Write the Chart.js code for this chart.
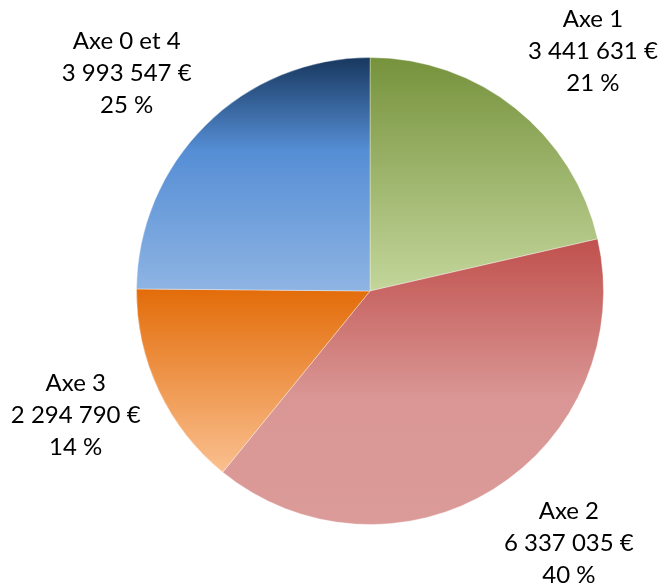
<!DOCTYPE html>
<html lang="fr">
<head>
<meta charset="utf-8">
<title>Répartition par axe</title>
<script src="https://cdn.jsdelivr.net/npm/chart.js@4.4.1/dist/chart.umd.min.js"></script>
<style>
  html, body { margin: 0; padding: 0; background: #fff; }
  #wrap { position: relative; width: 663px; height: 586px; }
</style>
</head>
<body>
<div id="wrap"><canvas id="pieChart"></canvas></div>
<script>
// Slices, clockwise from 12 o'clock
const categories = ['Axe 1', 'Axe 2', 'Axe 3', 'Axe 0 et 4'];
const amounts = [3441631, 6337035, 2294790, 3993547];
const percentLabels = ['21 %', '40 %', '14 %', '25 %'];

// Vertical gradient stops for each slice (dark at top, light at bottom)
const sliceStops = [
  [[0, '#76923C'], [1, '#C3D69B']],
  [[0, '#C0504D'], [0.55, '#D99694'], [1, '#DB9B99']],
  [[0, '#E36C09'], [1, '#FAC090']],
  [[0, '#17375E'], [0.4, '#558ED5'], [1, '#8EB4E3']]
];
const fallbackColors = ['#9BBB59', '#C0504D', '#F79646', '#4F81BD'];

const total = amounts.reduce((a, b) => a + b, 0);

// "3441631" -> "3 441 631 €"
const euro = (v) => String(v).replace(/\B(?=(\d{3})+(?!\d))/g, ' ') + ' €';

// Gradient spanning the vertical extent of the slice
const sliceGradient = (context) => {
  const chart = context.chart;
  const area = chart.chartArea;
  const i = context.dataIndex;
  if (!area || i === undefined) return fallbackColors[i || 0];
  const cx = (area.left + area.right) / 2;
  const cy = (area.top + area.bottom) / 2;
  const r = Math.min(area.width, area.height) / 2;
  const before = amounts.slice(0, i).reduce((a, b) => a + b, 0);
  const a0 = before / total * 2 * Math.PI - Math.PI / 2;
  const a1 = (before + amounts[i]) / total * 2 * Math.PI - Math.PI / 2;
  const ys = [cy, cy + r * Math.sin(a0), cy + r * Math.sin(a1)];
  if (a0 < Math.PI / 2 && a1 > Math.PI / 2) ys.push(cy + r);
  const g = chart.ctx.createLinearGradient(0, Math.min(...ys), 0, Math.max(...ys));
  sliceStops[i].forEach(([pos, col]) => g.addColorStop(pos, col));
  return g;
};

// Three-line labels outside each slice
const outsideLabels = {
  id: 'outsideLabels',
  afterDatasetsDraw(chart) {
    const ctx = chart.ctx;
    const meta = chart.getDatasetMeta(0);
    const lineHeight = 32;
    const gap = 20;
    ctx.save();
    ctx.font = '24px Lato, "Open Sans", sans-serif';
    ctx.fillStyle = '#000';
    ctx.textAlign = 'center';
    ctx.textBaseline = 'middle';
    meta.data.forEach((arc, i) => {
      const lines = [categories[i], euro(amounts[i]), percentLabels[i]];
      const w = Math.max(...lines.map(l => ctx.measureText(l).width));
      const h = lines.length * lineHeight;
      const mid = (arc.startAngle + arc.endAngle) / 2;
      const ux = Math.cos(mid), uy = Math.sin(mid);
      const px = arc.x + (arc.outerRadius + gap) * ux;
      const py = arc.y + (arc.outerRadius + gap) * uy;
      const bx = px + Math.sign(ux) * w / 2;
      const by = py + uy * h / 2 - 4;
      lines.forEach((l, k) => {
        ctx.fillText(l, bx, by - h / 2 + lineHeight * (k + 0.5));
      });
    });
    ctx.restore();
  }
};

new Chart(document.getElementById('pieChart'), {
  type: 'pie',
  data: {
    labels: categories,
    datasets: [{
      data: amounts,
      backgroundColor: sliceGradient,
      borderWidth: 1,
      borderColor: 'rgba(255,255,255,0.35)'
    }]
  },
  options: {
    responsive: true,
    maintainAspectRatio: false,
    animation: false,
    layout: {
      padding: { top: 57, right: 59, bottom: 61, left: 136 }
    },
    plugins: {
      legend: { display: false },
      tooltip: { enabled: false }
    }
  },
  plugins: [outsideLabels]
});
</script>
</body>
</html>
